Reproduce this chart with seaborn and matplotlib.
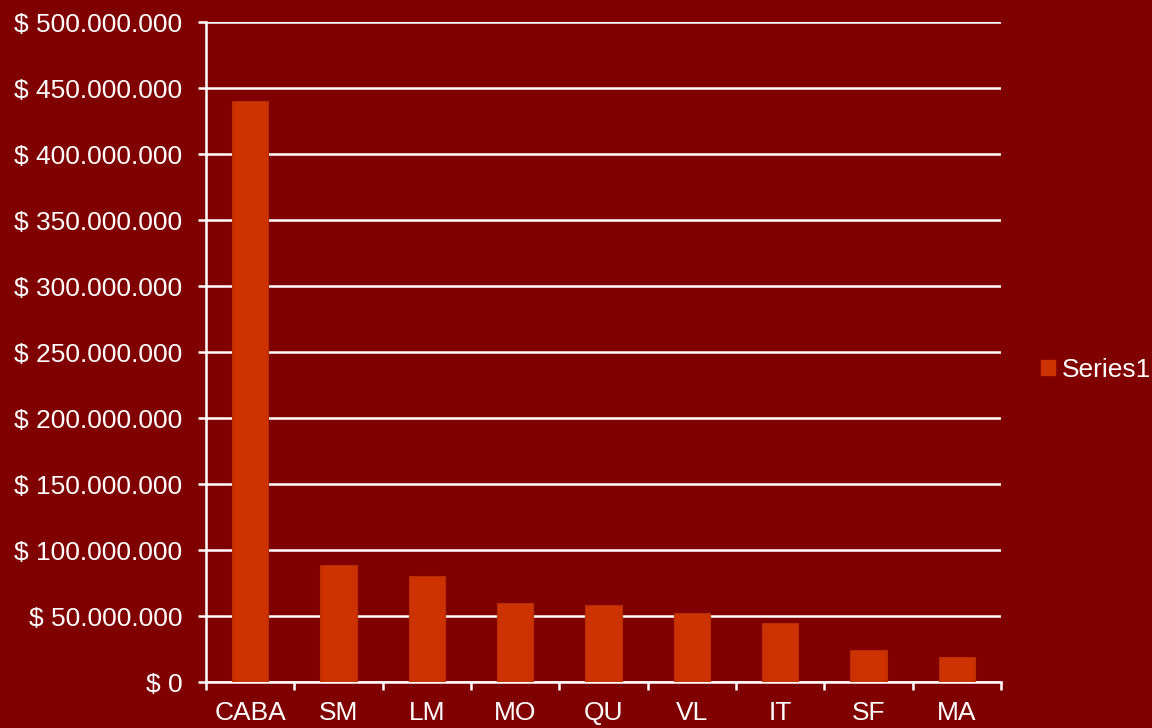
import matplotlib
matplotlib.use("Agg")
import matplotlib.pyplot as plt
import seaborn as sns
import pandas as pd
import numpy as np
from matplotlib.ticker import FuncFormatter, FixedLocator
from matplotlib.patches import Patch

categories = ["CABA", "SM", "LM", "MO", "QU", "VL", "IT", "SF", "MA"]
values = [440_000_000, 88_500_000, 80_000_000, 59_800_000, 58_200_000,
          52_000_000, 44_500_000, 24_000_000, 19_000_000]
series_name = "Series1"

BG = "#800000"
BAR = "#CC3300"
FG = "white"
FS = 19

df = pd.DataFrame({"zona": categories, "monto": values})

sns.set_style("white")
plt.rcParams["font.family"] = ["Liberation Sans", "DejaVu Sans"]

fig = plt.figure(figsize=(11.52, 7.28), dpi=100, facecolor=BG)
ax = fig.add_axes([206 / 1152, 46 / 728, 795 / 1152, 660 / 728])
ax.set_facecolor(BG)

sns.barplot(data=df, x="zona", y="monto", color=BAR, width=0.41,
            saturation=1, ax=ax, zorder=3)
for p in ax.patches:
    p.set_edgecolor("#B82E00")
    p.set_linewidth(0.8)

ax.set_xlim(-0.5, len(categories) - 0.5)
ax.set_ylim(0, 500_000_000)
ax.set_yticks(np.arange(0, 500_000_001, 50_000_000))
ax.yaxis.set_major_formatter(
    FuncFormatter(lambda v, _: "$ " + f"{int(v):,}".replace(",", ".")))
ax.grid(axis="y", color=FG, linewidth=1.8, zorder=0)
ax.set_axisbelow(True)

# category boundary ticks
ax.xaxis.set_minor_locator(FixedLocator(np.arange(-0.5, len(categories), 1)))
ax.tick_params(axis="x", which="major", bottom=True, length=0, pad=14,
               labelsize=FS, labelcolor=FG)
ax.tick_params(axis="x", which="minor", bottom=True, length=6, width=1.8,
               color=FG, direction="out")
ax.tick_params(axis="y", left=True, length=6, width=1.8, color=FG,
               labelsize=FS, labelcolor=FG, pad=11)

ax.set_xlabel("")
ax.set_ylabel("")
for side in ["top", "right"]:
    ax.spines[side].set_visible(False)
for side in ["left", "bottom"]:
    ax.spines[side].set_color(FG)
    ax.spines[side].set_linewidth(1.8)

leg = fig.legend(handles=[Patch(facecolor=BAR, edgecolor=BAR, label=series_name)],
                 loc="center left", bbox_to_anchor=(1041 / 1152, 1 - 370 / 728),
                 frameon=False, fontsize=FS, handlelength=0.53, handleheight=0.53,
                 handletextpad=0.25, borderaxespad=0, borderpad=0)
for t in leg.get_texts():
    t.set_color(FG)

fig.savefig("out.png", dpi=100, facecolor=BG)
